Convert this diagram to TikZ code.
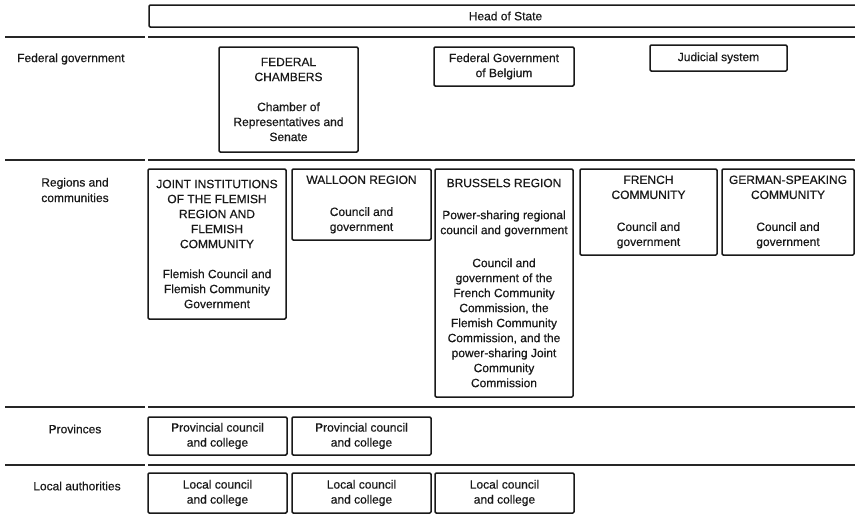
\documentclass[tikz,border=0pt]{standalone}
\usepackage{fontspec}
\setmainfont{Liberation Sans}
\newfontfamily\dfont{Liberation Sans}[FakeBold=0.5]
\begin{document}
\begin{tikzpicture}[x=1pt,y=-1pt,
  box/.style={draw=black!90, line width=1.5pt, rounded corners=1.2pt, align=center, inner sep=0pt,
    font=\dfont\fontsize{12}{15}\selectfont, text=black!90},
  lbl/.style={align=center, inner sep=0pt, font=\dfont\fontsize{12}{15.5}\selectfont, text=black!90},
  rule/.style={line width=2pt, draw=black!85}]
\clip (0,0) rectangle (855,523);
\useasboundingbox (0,0) rectangle (855,523);
\fill[white] (0,0) rectangle (855,523);

% rules
\foreach \yy in {37,160,407,465}{
  \draw[rule] (5,\yy) -- (145,\yy);
  \draw[rule] (148,\yy) -- (860,\yy);
}

% row labels
\node[lbl, anchor=west] (lfed) at (17,59) {Federal government};
\node[lbl] (lreg) at (75,190) {Regions and\\communities};
\node[lbl] (lprov) at (75,429) {Provinces};
\node[lbl] (lloc) at (77,486) {Local authorities};

% head of state
\node[box, minimum width=713pt, minimum height=22pt] (head) at (505.5,16) {Head of State};

% federal
\node[box, minimum width=139pt, minimum height=105pt] (fc) at (288.5,99.5)
  {FEDERAL\\CHAMBERS\\[15pt]Chamber of\\Representatives and\\Senate};
\node[box, minimum width=140pt, minimum height=39pt] (fgb) at (504,66.5)
  {Federal Government\\of Belgium};
\node[box, minimum width=137pt, minimum height=26pt] (jud) at (718.5,58)
  {Judicial system};

% regions and communities
\node[box, minimum width=138pt, minimum height=150pt] (joint) at (217,244)
  {JOINT INSTITUTIONS\\OF THE FLEMISH\\REGION AND\\FLEMISH\\COMMUNITY\\[15pt]Flemish Council and\\Flemish Community\\Government};
\node[box, minimum width=139pt, minimum height=71pt] (wal) at (361.5,204.5)
  {WALLOON REGION\\[17pt]Council and\\government};
\node[box, minimum width=138pt, minimum height=228pt] (bru) at (504,283)
  {BRUSSELS REGION\\[17pt]Power-sharing regional\\council and government\\[18pt]Council and\\government of the\\French Community\\Commission, the\\Flemish Community\\Commission, and the\\power-sharing Joint\\Community\\Commission};
\node[box, minimum width=137pt, minimum height=86pt] (fr) at (648.5,212)
  {FRENCH\\COMMUNITY\\[17pt]Council and\\government};
\node[box, minimum width=132pt, minimum height=86pt] (ger) at (788,212)
  {GERMAN-SPEAKING\\COMMUNITY\\[17pt]Council and\\government};

% provinces
\node[box, minimum width=139pt, minimum height=38pt] (prov1) at (217.5,436)
  {Provincial council\\and college};
\node[box, minimum width=139pt, minimum height=38pt] (prov2) at (361.5,436)
  {Provincial council\\and college};

% local authorities
\node[box, minimum width=139pt, minimum height=40pt] (loc1) at (217.5,493)
  {Local council\\and college};
\node[box, minimum width=139pt, minimum height=40pt] (loc2) at (361.5,493)
  {Local council\\and college};
\node[box, minimum width=139pt, minimum height=40pt] (loc3) at (504.5,493)
  {Local council\\and college};
\end{tikzpicture}
\end{document}
